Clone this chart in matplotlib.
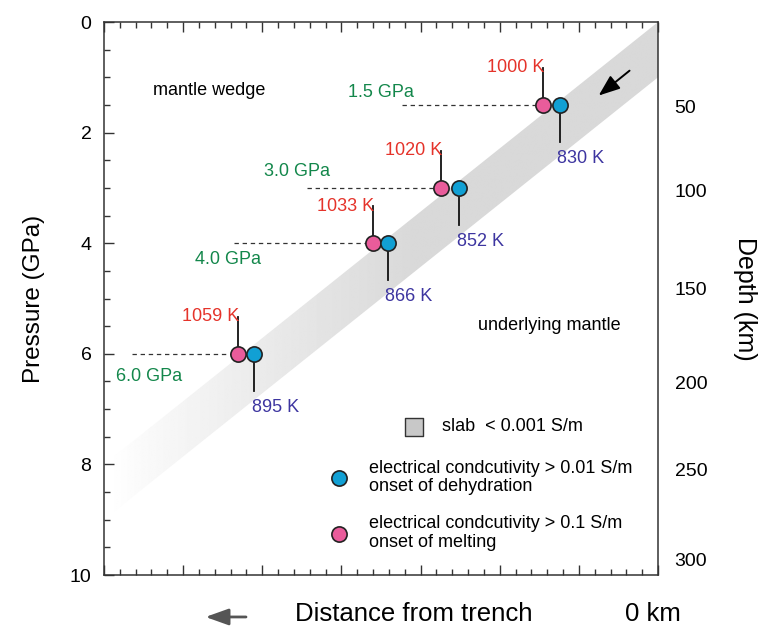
import numpy as np
import matplotlib
matplotlib.use("Agg")
import matplotlib.pyplot as plt
from matplotlib.patches import Polygon, FancyArrowPatch
from matplotlib.ticker import MultipleLocator

plt.rcParams['font.family'] = ['Liberation Sans', 'DejaVu Sans']

# data
pressure_gpa = [1.5, 3.0, 4.0, 6.0]
pressure_labels = ['1.5 GPa', '3.0 GPa', '4.0 GPa', '6.0 GPa']
guide_start_x = [3.76, 2.56, 1.64, 0.36]
melt_x = [5.55, 4.26, 3.40, 1.69]
dehyd_x = [5.76, 4.49, 3.59, 1.90]
melt_temp_k = [1000, 1020, 1033, 1059]
dehyd_temp_k = [830, 852, 866, 895]

slab_x = [0.0, 7.0]
slab_top_gpa = [8.0, 0.0]
slab_bottom_gpa = [9.0, 1.0]

depth_km = [50, 100, 150, 200, 250, 300]
depth_at_gpa = [1.53, 3.04, 4.82, 6.52, 8.10, 9.72]

# colours
c_melt = '#e95c9b'
c_dehyd = '#11a0d4'
c_red = '#e5332a'
c_green = '#13874b'
c_purple = '#3d35a0'
c_edge = '#222222'

stem = 0.67  # GPa
# offsets (points) of the green pressure labels from the guide-line start
glabel_off = [(-15, 9), (-7, 12), (-4, -12), (12, -16)]

fig = plt.figure(figsize=(7.64, 6.27), dpi=100)
ax = fig.add_axes([0.1361, 0.0829, 0.7252, 0.8820])
ax.set_xlim(0, 7)
ax.set_ylim(10, 0)

# slab band with fading gradient
xx, yy = np.meshgrid(np.linspace(0, 7, 400), np.linspace(0, 10, 10))
t = np.clip((xx / 7 - 0.01) / 0.55, 0, 1)
shade = 1 - 0.15 * t ** 0.9
img = ax.imshow(shade, cmap='gray', vmin=0, vmax=1, extent=[0, 7, 10, 0],
                aspect='auto', zorder=0, interpolation='bilinear')
band = Polygon([(slab_x[0], slab_top_gpa[0]), (slab_x[1], slab_top_gpa[1]),
                (slab_x[1], slab_bottom_gpa[1]), (slab_x[0], slab_bottom_gpa[0])],
               closed=True, facecolor='none', edgecolor='none', transform=ax.transData)
ax.add_patch(band)
img.set_clip_path(band)

for i, p in enumerate(pressure_gpa):
    # dashed guide
    ax.plot([guide_start_x[i], melt_x[i]], [p, p], color='#333333', lw=0.9,
            ls=(0, (3.5, 3)), zorder=2)
    ax.annotate(pressure_labels[i], (guide_start_x[i], p), xytext=glabel_off[i],
                textcoords='offset points', ha='center', va='center',
                color=c_green, fontsize=13)
    # stems
    ax.plot([melt_x[i], melt_x[i]], [p, p - stem], color='#111111', lw=1.3, zorder=3)
    ax.plot([dehyd_x[i], dehyd_x[i]], [p, p + stem], color='#111111', lw=1.3, zorder=3)
    ax.annotate(f'{melt_temp_k[i]} K', (melt_x[i], p - stem), xytext=(1, 0),
                textcoords='offset points', ha='right', va='center',
                color=c_red, fontsize=13)
    ax.annotate(f'{dehyd_temp_k[i]} K', (dehyd_x[i], p + stem), xytext=(-2, -12),
                textcoords='offset points', ha='left', va='center',
                color=c_purple, fontsize=13)

ax.scatter(melt_x, pressure_gpa, s=120, color=c_melt, edgecolor=c_edge, lw=1.2, zorder=4)
ax.scatter(dehyd_x, pressure_gpa, s=120, color=c_dehyd, edgecolor=c_edge, lw=1.2, zorder=4)

# subduction arrow
ax.annotate('', xy=(6.25, 1.33), xytext=(6.64, 0.88),
            arrowprops=dict(arrowstyle='-|>,head_length=1.3,head_width=0.5',
                            color='black', lw=1.4, shrinkA=0, shrinkB=0))

ax.text(0.089, 0.876, 'mantle wedge', transform=ax.transAxes, fontsize=13,
        va='center', ha='left')
ax.text(0.6756, 0.452, 'underlying mantle', transform=ax.transAxes, fontsize=13,
        va='center', ha='left')

# legend
ax.scatter([0.559], [0.2676], marker='s', s=150, color='#c8c8c8', edgecolor='#333333',
           lw=1.0, transform=ax.transAxes, zorder=4)
ax.text(0.6096, 0.2685, 'slab  < 0.001 S/m', transform=ax.transAxes, fontsize=13,
        va='center')
ax.scatter([0.4247], [0.1749], s=120, color=c_dehyd, edgecolor=c_edge, lw=1.2,
           transform=ax.transAxes, zorder=4)
ax.text(0.4789, 0.1769, 'electrical condcutivity > 0.01 S/m\nonset of dehydration',
        transform=ax.transAxes, fontsize=13, va='center', linespacing=1.1)
ax.scatter([0.4247], [0.0741], s=120, color=c_melt, edgecolor=c_edge, lw=1.2,
           transform=ax.transAxes, zorder=4)
ax.text(0.4789, 0.0759, 'electrical condcutivity > 0.1 S/m\nonset of melting',
        transform=ax.transAxes, fontsize=13, va='center', linespacing=1.1)

# ticks
ax.xaxis.set_major_locator(MultipleLocator(1))
ax.xaxis.set_minor_locator(MultipleLocator(0.2))
ax.yaxis.set_major_locator(MultipleLocator(2))
ax.yaxis.set_minor_locator(MultipleLocator(0.5))
ax.tick_params(which='both', direction='in', top=True, right=True, color='#333333')
ax.tick_params(which='major', length=7, width=1.0)
ax.tick_params(which='minor', length=4, width=1.0)
ax.tick_params(axis='x', labelbottom=False)
ax.tick_params(axis='y', labelsize=14, pad=9)
for s in ax.spines.values():
    s.set_color('#333333')
    s.set_linewidth(1.1)
ax.set_ylabel('Pressure (GPa)', fontsize=17.5, labelpad=18)

ax2 = ax.twinx()
ax2.set_ylim(10, 0)
ax2.set_yticks(depth_at_gpa)
ax2.set_yticklabels([str(d) for d in depth_km])
ax2.tick_params(axis='y', length=0, labelsize=14, pad=12)
for s in ax2.spines.values():
    s.set_visible(False)
ax2.set_ylabel('Depth (km)', fontsize=18, rotation=270, labelpad=36)

fig.text(0.5419, 0.0207, 'Distance from trench', fontsize=18.5, ha='center', va='center')
fig.text(0.855, 0.0207, '0 km', fontsize=18.5, ha='center', va='center')
fig.patches.append(FancyArrowPatch(
    (0.3220, 0.0160), (0.2690, 0.0160), transform=fig.transFigure,
    arrowstyle='-|>,head_length=14,head_width=5', color='#555555', lw=2.0,
    mutation_scale=1, shrinkA=0, shrinkB=0))

fig.savefig('out.png', dpi=100)
